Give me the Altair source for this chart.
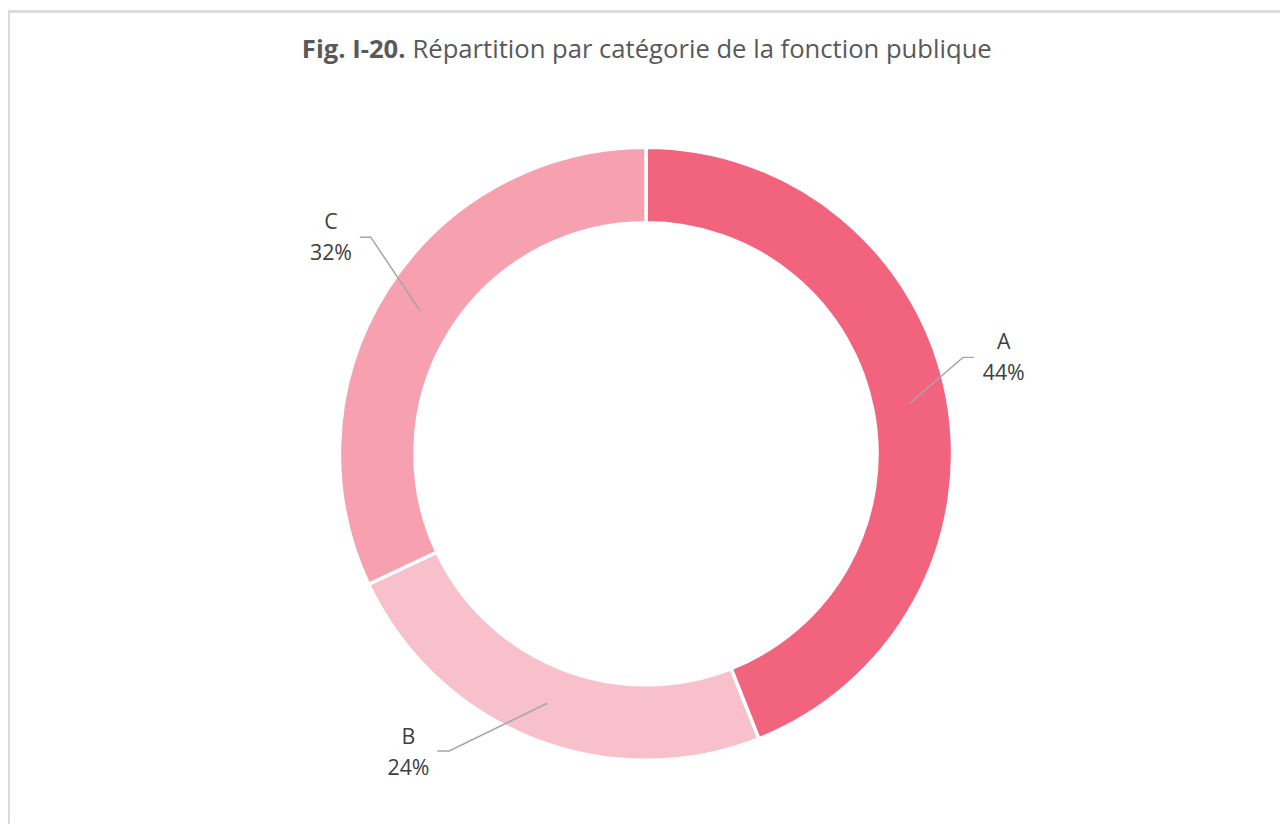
import math
import altair as alt
import pandas as pd

# ---- data ----
categories = ["A", "B", "C"]
shares = [44, 24, 32]
colors = ["#F2647E", "#F8C0CB", "#F7A1B0"]
title_bold = "Fig. I-20."
title_rest = "Répartition par catégorie de la fonction publique"

# ---- layout (view pixel coords; page = view + 8) ----
W, H = 1280, 818
CX, CY = 642, 446
R_OUT, R_IN = 308.5, 232.5
R_MID = 270
# label block centre and leader elbow, relative to the donut centre
label_pos = {"A": (360, -96), "B": (-239, 301), "C": (-317, -217)}
elbow_pos = {"A": (319, -97), "B": (-198, 299), "C": (-277, -218)}
end_pos = {"A": (330, -97), "B": (-210, 299), "C": (-288, -218)}

total = sum(shares)
df = pd.DataFrame({"cat": categories, "val": shares, "ord": range(len(categories))})

rows_lines, rows_text = [], []
cum = 0
for c, v in zip(categories, shares):
    mid = (cum + v / 2) / total * 2 * math.pi
    cum += v
    sx = CX + R_MID * math.sin(mid)
    sy = CY - R_MID * math.cos(mid)
    ex, ey = elbow_pos[c]
    fx, fy = end_pos[c]
    rows_lines += [
        {"cat": c, "i": 0, "px": sx, "py": sy},
        {"cat": c, "i": 1, "px": CX + ex, "py": CY + ey},
        {"cat": c, "i": 2, "px": CX + fx, "py": CY + fy},
    ]
    lx, ly = label_pos[c]
    rows_text.append({"cat": c, "t": c, "px": CX + lx, "py": CY + ly - 15})
    rows_text.append({"cat": c, "t": f"{v}%", "px": CX + lx, "py": CY + ly + 16})

lines_df = pd.DataFrame(rows_lines)
text_df = pd.DataFrame(rows_text)

arc = alt.Chart(df).mark_arc(
    outerRadius=R_OUT, innerRadius=R_IN, stroke="white", strokeWidth=3.5
).encode(
    theta=alt.Theta("val:Q", stack=True),
    order=alt.Order("ord:Q"),
    color=alt.Color("cat:N", scale=alt.Scale(domain=categories, range=colors), legend=None),
    x=alt.value(CX),
    y=alt.value(CY),
)

leaders = alt.Chart(lines_df).mark_line(color="#a6a6a6", strokeWidth=1.5).encode(
    x=alt.X("px:Q", scale=None),
    y=alt.Y("py:Q", scale=None),
    detail="cat:N",
    order="i:Q",
)

labels = alt.Chart(text_df).mark_text(
    font="Open Sans", fontSize=21.5, color="#404040", align="center", baseline="middle"
).encode(
    x=alt.X("px:Q", scale=None),
    y=alt.Y("py:Q", scale=None),
    text="t:N",
)

title_df = pd.DataFrame({"t": [title_bold]})
t1 = alt.Chart(title_df).mark_text(
    font="Open Sans", fontSize=25.8, fontWeight="bold", color="#595959", align="right", baseline="middle"
).encode(text="t:N", x=alt.value(400), y=alt.value(40))
t2 = alt.Chart(pd.DataFrame({"t": [title_rest]})).mark_text(
    font="Open Sans", fontSize=25.8, color="#595959", align="left", baseline="middle"
).encode(text="t:N", x=alt.value(407), y=alt.value(40))

border_top = alt.Chart(df).mark_rule(color="#d9d9d9", strokeWidth=2).encode(
    x=alt.value(0), x2=alt.value(W), y=alt.value(1)
)
border_left = alt.Chart(df).mark_rule(color="#d9d9d9", strokeWidth=2).encode(
    x=alt.value(1), y=alt.value(0), y2=alt.value(H)
)

chart = alt.layer(border_top, border_left, arc, leaders, labels, t1, t2).properties(
    width=W, height=H, padding=0, autosize=alt.AutoSizeParams(type="none")
).configure_view(stroke=None)

chart.save("out.html", embed_options={"renderer": "svg", "actions": False})
